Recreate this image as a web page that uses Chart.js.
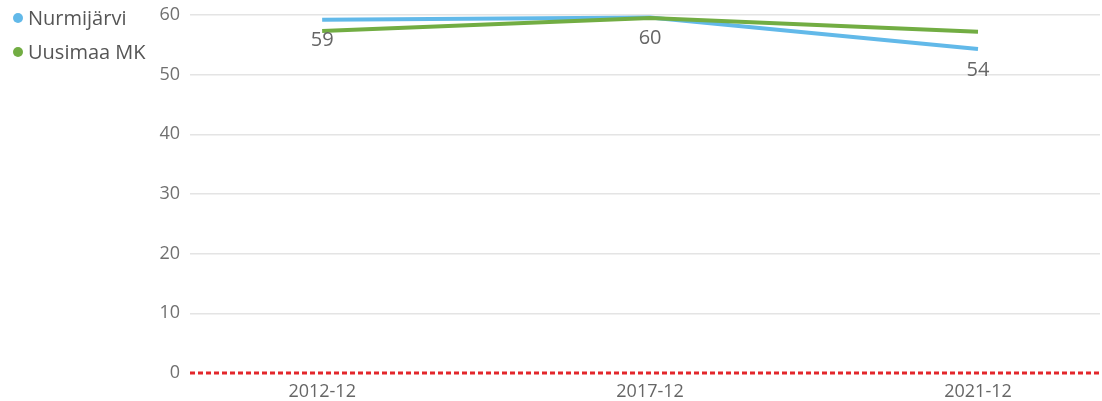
<!DOCTYPE html>
<html>
<head>
<meta charset="utf-8">
<style>
  html, body { margin: 0; padding: 0; background: #fff; overflow: hidden; }
  #wrap { width: 1102px; height: 401px; }
</style>
</head>
<body>
<div id="wrap">
  <canvas id="my-chart" width="1102" height="401"></canvas>
</div>

<script src="https://cdn.jsdelivr.net/npm/chart.js"></script>

<script>
  const categories = ['2012-12', '2017-12', '2021-12']
  const nurmijarvi = [59.2, 59.6, 54.3]
  const uusimaa = [57.3, 59.5, 57.2]
  const yTicks = [0, 10, 20, 30, 40, 50, 60]
  const seriesNames = ['Nurmijärvi', 'Uusimaa MK']

  const FONT = "'Open Sans', 'Noto Sans', sans-serif"
  const BLUE = '#62b9e9'
  const GREEN = '#72ad43'

  // legend top-left, data labels under the blue line, red dashed zero line
  const extras = {
    id: 'extras',
    beforeDatasetsDraw(chart) {
      const { ctx, chartArea, scales } = chart
      const y0 = scales.y.getPixelForValue(0)
      ctx.save()
      ctx.strokeStyle = '#e3262b'
      ctx.lineWidth = 3
      ctx.setLineDash([5, 3])
      ctx.beginPath()
      ctx.moveTo(chartArea.left, y0)
      ctx.lineTo(chartArea.right, y0)
      ctx.stroke()
      ctx.restore()
    },
    afterDraw(chart) {
      const { ctx } = chart
      ctx.save()
      // data labels
      const meta = chart.getDatasetMeta(0)
      ctx.font = '20px ' + FONT
      ctx.fillStyle = '#666666'
      ctx.textAlign = 'center'
      ctx.textBaseline = 'middle'
      meta.data.forEach((pt, i) => {
        ctx.fillText(String(Math.round(nurmijarvi[i])), pt.x, pt.y + 21)
      })
      // legend
      const colors = [BLUE, GREEN]
      ctx.textAlign = 'left'
      ctx.font = '20px ' + FONT
      seriesNames.forEach((name, i) => {
        const cy = 18 + i * 34
        ctx.fillStyle = colors[i]
        ctx.beginPath()
        ctx.arc(18, cy, 5, 0, Math.PI * 2)
        ctx.fill()
        ctx.fillStyle = '#555555'
        ctx.fillText(name, 28, cy + 1)
      })
      ctx.restore()
    }
  }

  const ctx = document.getElementById('my-chart').getContext('2d')
  const chart = new Chart(ctx, {
    type: 'line',
    data: {
      datasets: [
        {
          label: seriesNames[0],
          data: nurmijarvi.map((v, i) => ({ x: i, y: v })),
          borderColor: BLUE,
          borderWidth: 4,
          pointRadius: 0,
          tension: 0,
          order: 1
        },
        {
          label: seriesNames[1],
          data: uusimaa.map((v, i) => ({ x: i, y: v })),
          borderColor: GREEN,
          borderWidth: 4,
          pointRadius: 0,
          tension: 0,
          order: 0
        }
      ]
    },
    options: {
      responsive: false,
      animation: false,
      layout: { padding: { left: 140, right: 2, top: 15, bottom: 0 } },
      plugins: { legend: { display: false }, tooltip: { enabled: false } },
      scales: {
        x: {
          type: 'linear',
          min: -0.403,
          max: 2.372,
          grid: { display: false },
          border: { display: false },
          afterBuildTicks: s => { s.ticks = categories.map((c, i) => ({ value: i })) },
          afterFit: s => { s.height = 28; s.paddingLeft = 0; s.paddingRight = 0 },
          ticks: {
            callback: v => categories[v],
            color: '#666666',
            font: { family: FONT, size: 18 },
            padding: 0,
            maxRotation: 0
          }
        },
        y: {
          min: 0,
          max: 60,
          afterBuildTicks: s => { s.ticks = yTicks.map(v => ({ value: v })) },
          afterFit: s => { s.width = 50; s.paddingTop = 0; s.paddingBottom = 0 },
          grid: {
            color: c => c.tick && c.tick.value === 0 ? 'rgba(0,0,0,0)' : '#e4e4e4',
            lineWidth: 1.5,
            drawTicks: false
          },
          border: { display: false },
          ticks: {
            color: '#707070',
            font: { family: FONT, size: 18 },
            padding: 10
          }
        }
      }
    },
    plugins: [extras]
  })
</script>
</body>
</html>
